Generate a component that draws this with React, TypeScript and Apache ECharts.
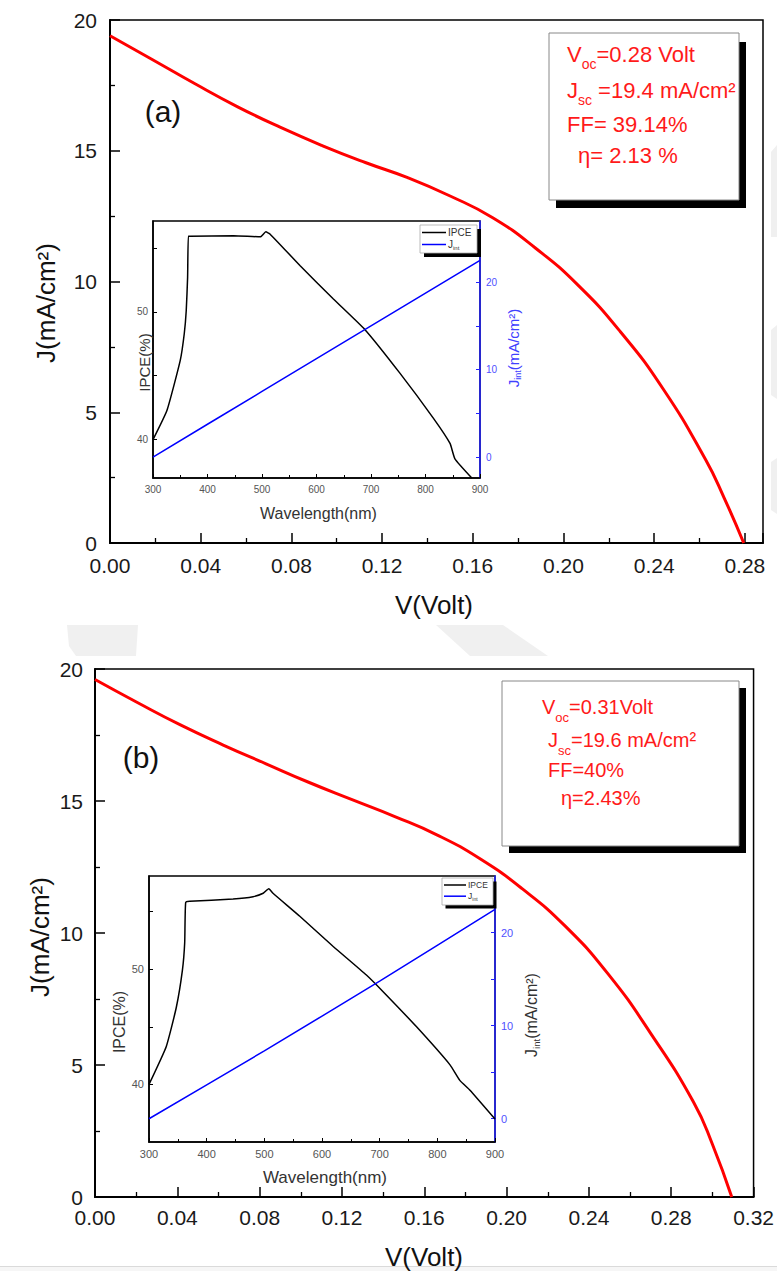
import React, { useEffect, useRef } from 'react';
import * as echarts from 'echarts';

// ---------- data ----------
// Panel (a): J-V curve
const voltageA = [0, 0.0188, 0.0375, 0.0563, 0.075, 0.0938, 0.1126, 0.1313, 0.15, 0.1688, 0.1876, 0.2063, 0.2251, 0.2439, 0.2626, 0.271, 0.2795];
const currentA = [19.4, 18.48, 17.56, 16.68, 15.9, 15.19, 14.55, 13.97, 13.27, 12.44, 11.28, 9.87, 8.08, 5.9, 3.2, 1.7, 0];
// Panel (a) inset: IPCE and integrated current
const wavelengthA = [300, 325.7, 350, 357.4, 361, 363.5, 364.8, 368, 448, 497, 507, 515, 570, 631, 689, 753, 814, 845, 854, 885];
const ipceA = [40, 42.3, 46.2, 48.3, 50.1, 52.7, 55.9, 55.9, 55.95, 55.86, 56.25, 56.07, 53.6, 51.0, 48.6, 45.2, 41.7, 39.7, 38.5, 37.0];
const jWaveA = [300, 500, 700, 900];
const jintA = [0, 7.5, 15.0, 22.5];

// Panel (b): J-V curve
const voltageB = [0, 0.0208, 0.0415, 0.0623, 0.0831, 0.1038, 0.1246, 0.1454, 0.1661, 0.1869, 0.2077, 0.2285, 0.2492, 0.27, 0.2908, 0.30, 0.3094];
const currentB = [19.6, 18.72, 17.88, 17.12, 16.41, 15.71, 15.06, 14.42, 13.72, 12.82, 11.67, 10.26, 8.46, 6.2, 3.6, 2.0, 0];
// Panel (b) inset
const wavelengthB = [300, 330, 347.4, 357.9, 361.9, 363.6, 370.6, 445.8, 480.5, 498, 507.7, 515, 561.5, 619, 677, 706, 764, 822, 839, 856.6, 900];
const ipceB = [40, 43.3, 46.7, 49.9, 52.3, 55.8, 55.9, 56.1, 56.3, 56.6, 57.0, 56.6, 54.6, 52.0, 49.5, 48.05, 45.0, 41.7, 40.35, 39.5, 37.0];
const jWaveB = [300, 500, 700, 900];
const jintB = [0, 7.3, 14.8, 22.5];

// tick label values
const ipceLabels = [40, 50];
const ipceTicks = [40, 45, 50, 55];
const jintLabels = [0, 10, 20];
const jintTicks = [0, 5, 10, 15, 20, 25];

// text box contents: [text, style]
const boxA: [string, string][][] = [
  [['V', 'n'], ['oc', 's'], ['=0.28 Volt', 'n']],
  [['J', 'n'], ['sc', 's'], [' =19.4 mA/cm²', 'n']],
  [['FF= 39.14%', 'n']],
  [['η= 2.13 %', 'n']],
];
const boxB: [string, string][][] = [
  [['V', 'n'], ['oc', 's'], ['=0.31Volt', 'n']],
  [['J', 'n'], ['sc', 's'], ['=19.6 mA/cm²', 'n']],
  [['FF=40%', 'n']],
  [['η=2.43%', 'n']],
];

const FONT = '"Liberation Sans", Arial, Helvetica, sans-serif';

const zip = (a: number[], b: number[]) => a.map((v, i) => [v, b[i]]);
const rich = (parts: [string, string][]) => parts.map(([t, s]) => `{${s}|${t}}`).join('');

function mainX(gridIndex: number, max: number, margin: number) {
  return {
    type: 'value', gridIndex, min: 0, max, interval: 0.04,
    axisLine: { show: true, onZero: false, lineStyle: { color: '#000', width: 2 } },
    axisTick: { show: true, inside: true, length: 10, lineStyle: { color: '#000', width: 1.5 } },
    minorTick: { show: true, splitNumber: 2, length: 5, lineStyle: { color: '#000', width: 1.3 } },
    splitLine: { show: false },
    axisLabel: {
      fontSize: 21, color: '#1a1a1a', fontFamily: FONT, margin, showMaxLabel: true,
      formatter: (v: number) => (Math.abs(v / 0.04 - Math.round(v / 0.04)) < 1e-6 ? v.toFixed(2) : ''),
    },
  };
}
function mainY(gridIndex: number, margin: number) {
  return {
    type: 'value', gridIndex, min: 0, max: 20, interval: 5,
    axisLine: { show: true, onZero: false, lineStyle: { color: '#000', width: 2 } },
    axisTick: { show: true, inside: true, length: 10, lineStyle: { color: '#000', width: 1.5 } },
    minorTick: { show: true, splitNumber: 2, length: 5, lineStyle: { color: '#000', width: 1.3 } },
    splitLine: { show: false },
    axisLabel: { fontSize: 21, color: '#1a1a1a', fontFamily: FONT, margin },
  };
}
function insetX(gridIndex: number, fontSize: number) {
  return {
    type: 'value', gridIndex, min: 300, max: 900, interval: 100,
    axisLine: { show: true, onZero: false, lineStyle: { color: '#000', width: 1.5 } },
    axisTick: { show: true, inside: true, length: 4, lineStyle: { color: '#000', width: 1 } },
    minorTick: { show: true, splitNumber: 2, length: 3, lineStyle: { color: '#000', width: 1 } },
    splitLine: { show: false },
    axisLabel: { fontSize, color: '#555', fontFamily: FONT, margin: 6 },
  };
}
function insetYLeft(gridIndex: number, min: number, max: number, fontSize: number) {
  return {
    type: 'value', gridIndex, min, max, position: 'left',
    axisLine: { show: true, onZero: false, lineStyle: { color: '#000', width: 1.5 } },
    axisTick: { show: true, inside: true, length: 4, customValues: ipceTicks, lineStyle: { color: '#000', width: 1 } },
    splitLine: { show: false },
    axisLabel: { fontSize, color: '#555', fontFamily: FONT, margin: 5, customValues: ipceLabels },
  };
}
function insetYRight(gridIndex: number, min: number, max: number, fontSize: number) {
  return {
    type: 'value', gridIndex, min, max, position: 'right',
    axisLine: { show: true, onZero: false, lineStyle: { color: '#2020ff', width: 1.5 } },
    axisTick: { show: true, inside: true, length: 4, customValues: jintTicks, lineStyle: { color: '#2020ff', width: 1 } },
    splitLine: { show: false },
    axisLabel: { fontSize, color: '#5050ff', fontFamily: FONT, margin: 6, customValues: jintLabels },
  };
}

function textBox(lines: [string, string][][], xs: number[], ys: number[], fontSize: number, subSize: number) {
  return lines.map((parts, i) => ({
    type: 'text', x: xs[i], y: ys[i], z: 20,
    style: {
      text: rich(parts), align: 'left', verticalAlign: 'middle', fill: '#ff1a1a',
      rich: {
        n: { fontSize, fontFamily: FONT, fill: '#ff1a1a', lineHeight: 34 },
        s: { fontSize: subSize, fontFamily: FONT, fill: '#ff1a1a', lineHeight: 11, verticalAlign: 'bottom' },
      },
    },
  }));
}

function label(text: string, x: number, y: number, fontSize: number, opts: any = {}) {
  return {
    type: 'text', x, y, z: 20, rotation: opts.rotation || 0,
    style: {
      text, align: 'center', verticalAlign: 'middle', fill: opts.color || '#111',
      fontSize, fontFamily: FONT,
    },
  };
}

function insetLegend(x: number, y: number, w: number, h: number, off: number, lineLen: number, fs: number, dy: number) {
  const subRich = {
    n: { fontSize: fs, fontFamily: FONT, fill: '#333', lineHeight: fs + 2 },
    s: { fontSize: fs * 0.6, fontFamily: FONT, fill: '#333', lineHeight: 4, verticalAlign: 'bottom' },
  };
  return [
    { type: 'rect', z: 18, shape: { x: x + off, y: y + off, width: w, height: h }, style: { fill: '#000' } },
    { type: 'rect', z: 19, shape: { x, y, width: w, height: h }, style: { fill: '#fff', stroke: '#aaa', lineWidth: 0.8 } },
    { type: 'line', z: 20, shape: { x1: x + 2, y1: y + dy, x2: x + 2 + lineLen, y2: y + dy }, style: { stroke: '#000', lineWidth: 1.5 } },
    { type: 'line', z: 20, shape: { x1: x + 2, y1: y + dy * 2.6, x2: x + 2 + lineLen, y2: y + dy * 2.6 }, style: { stroke: '#0000ff', lineWidth: 1.5 } },
    { type: 'text', z: 20, x: x + lineLen + 4, y: y + dy, style: { text: 'IPCE', fill: '#333', fontSize: fs, fontFamily: FONT, align: 'left', verticalAlign: 'middle' } },
    { type: 'text', z: 20, x: x + lineLen + 4, y: y + dy * 2.6, style: { text: '{n|J}{s|int}', align: 'left', verticalAlign: 'middle', rich: subRich } },
  ];
}

function buildOption() {
  const jRich = (fs: number, color: string) => ({
    n: { fontSize: fs, fontFamily: FONT, fill: color, lineHeight: fs + 4 },
    s: { fontSize: fs * 0.6, fontFamily: FONT, fill: color, lineHeight: 6, verticalAlign: 'bottom' },
  });
  const wm = '#f0f0f0';
  const graphic: any[] = [
    // faint background watermark pieces
    { type: 'polygon', z: -5, shape: { points: [[771, 152], [777, 145], [777, 237], [771, 237]] }, style: { fill: wm } },
    { type: 'polygon', z: -5, shape: { points: [[771, 330], [777, 325], [777, 399], [771, 395]] }, style: { fill: wm } },
    { type: 'polygon', z: -5, shape: { points: [[771, 462], [777, 458], [777, 514], [771, 510]] }, style: { fill: wm } },
    { type: 'polygon', z: -5, shape: { points: [[67, 625], [138, 625], [136, 656], [76, 656], [69, 646]] }, style: { fill: wm } },
    { type: 'polygon', z: -5, shape: { points: [[436, 625], [503, 625], [548, 656], [470, 656]] }, style: { fill: wm } },
    { type: 'rect', z: -5, shape: { x: 0, y: 1266, width: 777, height: 5 }, style: { fill: '#f6f6f6' } },
    { type: 'line', z: -4, shape: { x1: 0, y1: 1266.5, x2: 777, y2: 1266.5 }, style: { stroke: '#dadada', lineWidth: 1 } },

    // text box (a)
    { type: 'rect', z: 15, shape: { x: 556, y: 42, width: 190, height: 166 }, style: { fill: '#000' } },
    { type: 'rect', z: 16, shape: { x: 549, y: 33, width: 190, height: 167 }, style: { fill: '#fff', stroke: '#888', lineWidth: 1 } },
    ...textBox(boxA, [567, 567, 567, 578], [54, 90, 124, 155], 22, 14),
    // text box (b)
    { type: 'rect', z: 15, shape: { x: 509, y: 688, width: 237, height: 165 }, style: { fill: '#000' } },
    { type: 'rect', z: 16, shape: { x: 502, y: 681, width: 237, height: 165 }, style: { fill: '#fff', stroke: '#888', lineWidth: 1 } },
    ...textBox(boxB, [542, 548, 548, 561], [707, 740, 770, 798], 20, 13),

    // panel labels
    label('(a)', 163, 111, 30),
    label('(b)', 141, 757, 30),

    // main axis names
    label('J(mA/cm²)', 46, 303, 26, { rotation: Math.PI / 2 }),
    label('V(Volt)', 434, 605, 26),
    label('J(mA/cm²)', 40, 937, 26, { rotation: Math.PI / 2 }),
    label('V(Volt)', 424, 1257, 26),

    // inset axis names (a)
    label('IPCE(%)', 144.5, 362.5, 15, { color: '#333', rotation: Math.PI / 2 }),
    label('Wavelength(nm)', 318.5, 513, 16, { color: '#333' }),
    { type: 'text', x: 513, y: 348, z: 20, rotation: Math.PI / 2, style: { text: '{n|J}{s|int}{n|(mA/cm²)}', align: 'center', verticalAlign: 'middle', rich: jRich(15, '#4040ff') } },
    // inset axis names (b)
    label('IPCE(%)', 119, 1022, 16, { color: '#333', rotation: Math.PI / 2 }),
    label('Wavelength(nm)', 325, 1177, 17, { color: '#333' }),
    { type: 'text', x: 531, y: 1015, z: 20, rotation: Math.PI / 2, style: { text: '{n|J}{s|int}{n|(mA/cm²)}', align: 'center', verticalAlign: 'middle', rich: jRich(16, '#333') } },

    // inset legends
    ...insetLegend(420, 225, 57, 28, 4, 24, 10, 7.5),
    ...insetLegend(442, 878, 51, 27, 3.5, 22, 8.5, 7),
  ];

  const jv = { smooth: 0.5, showSymbol: false, lineStyle: { color: '#ff0000', width: 3 }, z: 5 };
  const thin = (color: string) => ({ smooth: 0.15, showSymbol: false, lineStyle: { color, width: 1.5 }, z: 6 });

  return {
    animation: false,
    backgroundColor: '#fff',
    grid: [
      { left: 110, top: 20, width: 653, height: 523, show: true, borderColor: '#000', borderWidth: 1.5, backgroundColor: 'transparent', containLabel: false },
      { left: 153, top: 221, width: 327, height: 257, show: true, borderColor: '#000', borderWidth: 1.5, backgroundColor: '#fff', containLabel: false },
      { left: 95, top: 669, width: 662, height: 528, show: true, borderColor: '#000', borderWidth: 1.5, backgroundColor: 'transparent', containLabel: false },
      { left: 149, top: 876, width: 346, height: 266, show: true, borderColor: '#000', borderWidth: 1.5, backgroundColor: '#fff', containLabel: false },
    ],
    xAxis: [
      mainX(0, 0.288, 12),
      insetX(1, 10),
      mainX(2, 0.32, 10),
      insetX(3, 11),
    ],
    yAxis: [
      mainY(0, 13),
      insetYLeft(1, 37, 57.1, 10),
      insetYRight(1, -2.4, 27, 10),
      mainY(2, 12),
      insetYLeft(3, 35, 58.1, 11),
      insetYRight(3, -2.5, 26.1, 11),
    ],
    series: [
      { type: 'line', name: 'J-V (a)', xAxisIndex: 0, yAxisIndex: 0, data: zip(voltageA, currentA), ...jv },
      { type: 'line', name: 'IPCE', xAxisIndex: 1, yAxisIndex: 1, data: zip(wavelengthA, ipceA), ...thin('#000') },
      { type: 'line', name: 'Jint', xAxisIndex: 1, yAxisIndex: 2, data: zip(jWaveA, jintA), ...thin('#0000ff') },
      { type: 'line', name: 'J-V (b)', xAxisIndex: 2, yAxisIndex: 3, data: zip(voltageB, currentB), ...jv },
      { type: 'line', name: 'IPCE b', xAxisIndex: 3, yAxisIndex: 4, data: zip(wavelengthB, ipceB), ...thin('#000') },
      { type: 'line', name: 'Jint b', xAxisIndex: 3, yAxisIndex: 5, data: zip(jWaveB, jintB), ...thin('#0000ff') },
    ],
    graphic,
  };
}

export default function App() {
  const ref = useRef<HTMLDivElement>(null);
  useEffect(() => {
    if (!ref.current) return;
    const chart = echarts.init(ref.current, undefined, { renderer: 'svg' });
    chart.setOption(buildOption() as any);
    return () => chart.dispose();
  }, []);
  return <div ref={ref} style={{ position: 'absolute', left: 0, top: 0, width: 777, height: 1271 }} />;
}
